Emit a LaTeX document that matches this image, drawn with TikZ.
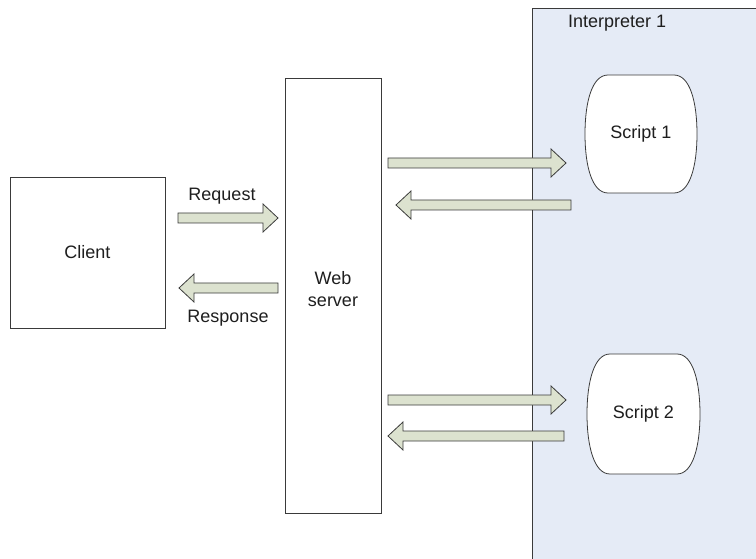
\documentclass[tikz,border=0pt]{standalone}
\usepackage{fontspec}
\setmainfont{Liberation Sans}
\usetikzlibrary{calc}

\definecolor{edge}{HTML}{3A3A3A}
\definecolor{arrowfill}{HTML}{DCE2CF}
\definecolor{interpfill}{HTML}{E5EBF6}
\definecolor{txt}{HTML}{1E1E1E}

% horizontal block arrow from tail #1 to tip #2
\newcommand{\hblock}[2]{%
  \draw[blockarrow] let \p1=(#1), \p2=(#2), \n1={sign(\x2-\x1)} in
    (\x1,\y1+5) -- (\x2-\n1*15,\y1+5) -- (\x2-\n1*15,\y1+14) -- (\x2,\y1)
    -- (\x2-\n1*15,\y1-14) -- (\x2-\n1*15,\y1-5) -- (\x1,\y1-5) -- cycle;}

\begin{document}
\begin{tikzpicture}[x=1pt,y=-1pt,
  every node/.style={font=\fontsize{18}{21.5}\selectfont, text=txt},
  box/.style={draw=edge, line width=0.9pt, fill=white},
  blockarrow/.style={draw=edge, line width=0.8pt, fill=arrowfill, line join=miter},
  scriptshape/.style={draw=edge, line width=0.8pt, fill=white},
  lbl/.style={inner sep=0pt}]
\useasboundingbox (0,0) rectangle (756,559);

% interpreter region
\fill[interpfill] (532,8) rectangle (760,565);
\draw[edge, line width=0.9pt] (532,565) -- (532,8) -- (760,8);
\node[lbl, anchor=west] (interp) at (568,23) {Interpreter 1};

% client and web server
\draw[box] (10,177) rectangle (165,328);
\node[lbl] (client) at (87.5,252) {Client};
\draw[box] (285,78) rectangle (381,513);
\node[lbl, align=center] (web) at (333,289) {Web\\server};

% scripts: flat top and bottom, bulging sides
\draw[scriptshape] (608,75) -- (674,75)
  .. controls (690,75) and (697,102) .. (697,134)
  .. controls (697,166) and (690,193) .. (674,193)
  -- (608,193)
  .. controls (592,193) and (585,166) .. (585,134)
  .. controls (585,102) and (592,75) .. (608,75) -- cycle;
\node[lbl] (s1) at (641,134) {Script 1};

\draw[scriptshape] (610,354) -- (677,354)
  .. controls (693,354) and (700,382) .. (700,414)
  .. controls (700,446) and (693,474) .. (677,474)
  -- (610,474)
  .. controls (594,474) and (587,446) .. (587,414)
  .. controls (587,382) and (594,354) .. (610,354) -- cycle;
\node[lbl] (s2) at (643.5,414) {Script 2};

% arrow end points
\coordinate (reqA) at (178,218);  \coordinate (reqB) at (278,218);
\coordinate (resA) at (278,288);  \coordinate (resB) at (179,288);
\coordinate (c1A) at (388,163);   \coordinate (c1B) at (566,163);
\coordinate (r1A) at (571,205);   \coordinate (r1B) at (396,205);
\coordinate (c2A) at (388,400);   \coordinate (c2B) at (566,400);
\coordinate (r2A) at (564,436);   \coordinate (r2B) at (388,436);

\hblock{reqA}{reqB}
\hblock{resA}{resB}
\hblock{c1A}{c1B}
\hblock{r1A}{r1B}
\hblock{c2A}{c2B}
\hblock{r2A}{r2B}

\node[lbl] (req) at (222,196) {Request};
\node[lbl] (res) at (228,318) {Response};
\end{tikzpicture}
\end{document}
